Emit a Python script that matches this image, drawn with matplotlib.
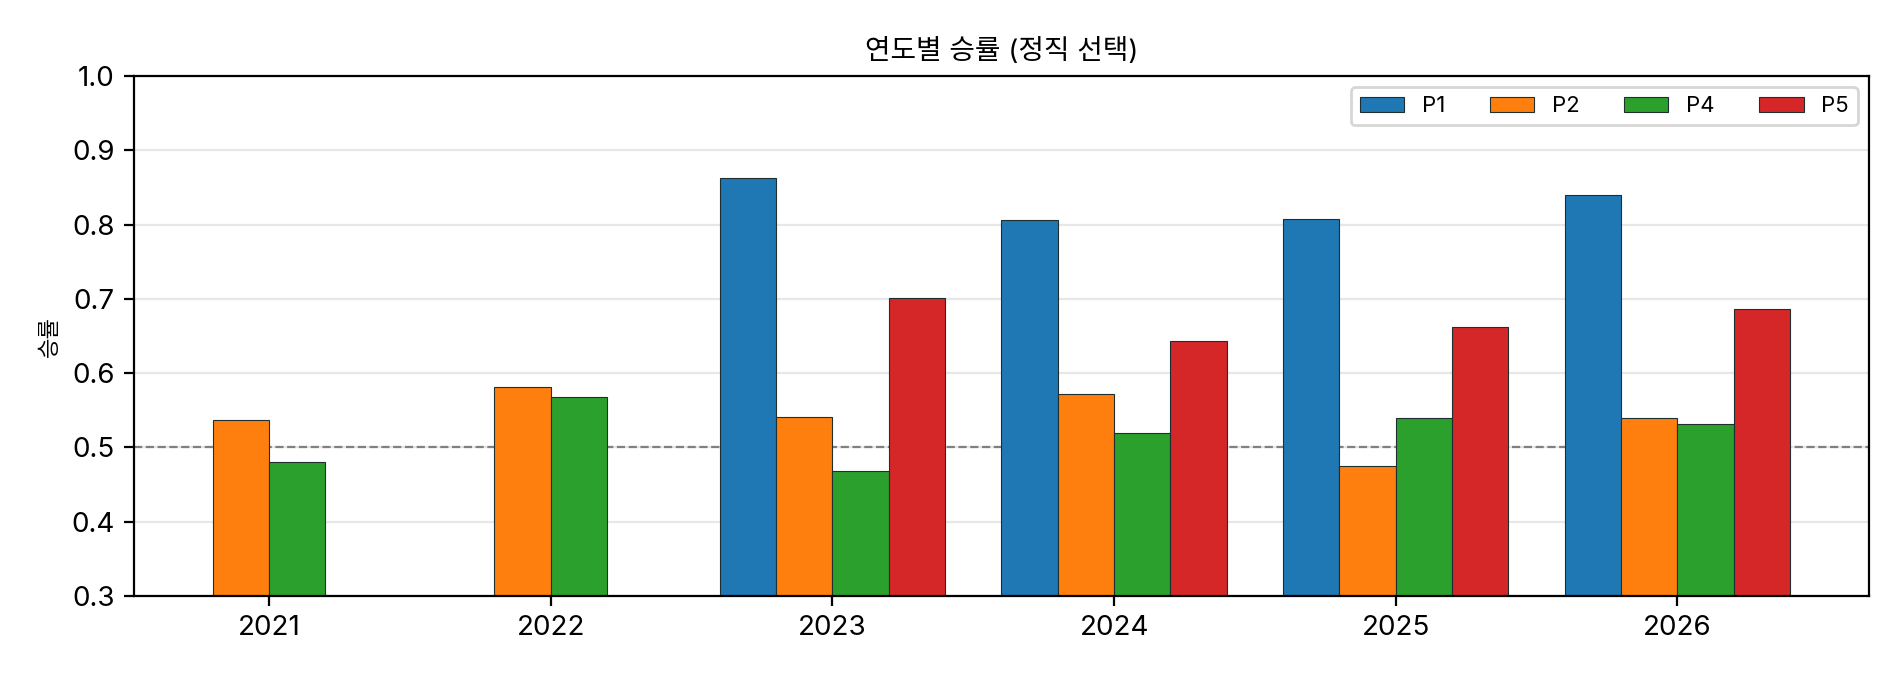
import numpy as np
import matplotlib

matplotlib.use("Agg")
import matplotlib.pyplot as plt

plt.rcParams["font.family"] = ["Inter", "Noto Sans CJK KR", "DejaVu Sans"]
plt.rcParams["axes.unicode_minus"] = False

years = ["2021", "2022", "2023", "2024", "2025", "2026"]
players = ["P1", "P2", "P4", "P5"]
p1 = [np.nan, np.nan, 0.863, 0.806, 0.807, 0.840]
p2 = [0.537, 0.581, 0.541, 0.572, 0.475, 0.540]
p4 = [0.481, 0.568, 0.468, 0.519, 0.540, 0.532]
p5 = [np.nan, np.nan, 0.701, 0.643, 0.662, 0.687]
series = [p1, p2, p4, p5]
COLORS = ["tab:blue", "tab:orange", "tab:green", "tab:red"]

fig, ax = plt.subplots(figsize=(9.5, 3.4), dpi=200)
x = np.arange(len(years))
w = 0.2
for i, (name, vals) in enumerate(zip(players, series)):
    ax.bar(x + (i - 1.5) * w, vals, w, color=COLORS[i], edgecolor="#1f2f2f",
           linewidth=0.4, label=name, zorder=2)

ax.axhline(0.5, color="gray", ls="--", lw=0.8, zorder=1)
ax.set_ylim(0.3, 1.0)
ax.set_xticks(x)
ax.set_xticklabels(years)
ax.set_ylabel("승률", fontsize=8)
ax.set_title("연도별 승률 (정직 선택)", fontsize=10)
ax.grid(True, axis="y", alpha=0.3, zorder=0)
ax.set_axisbelow(True)
ax.legend(ncol=4, fontsize=8, loc="upper right")
fig.subplots_adjust(left=0.0705, right=0.9837, top=0.888, bottom=0.1235)
fig.savefig("out.png", dpi=200)
